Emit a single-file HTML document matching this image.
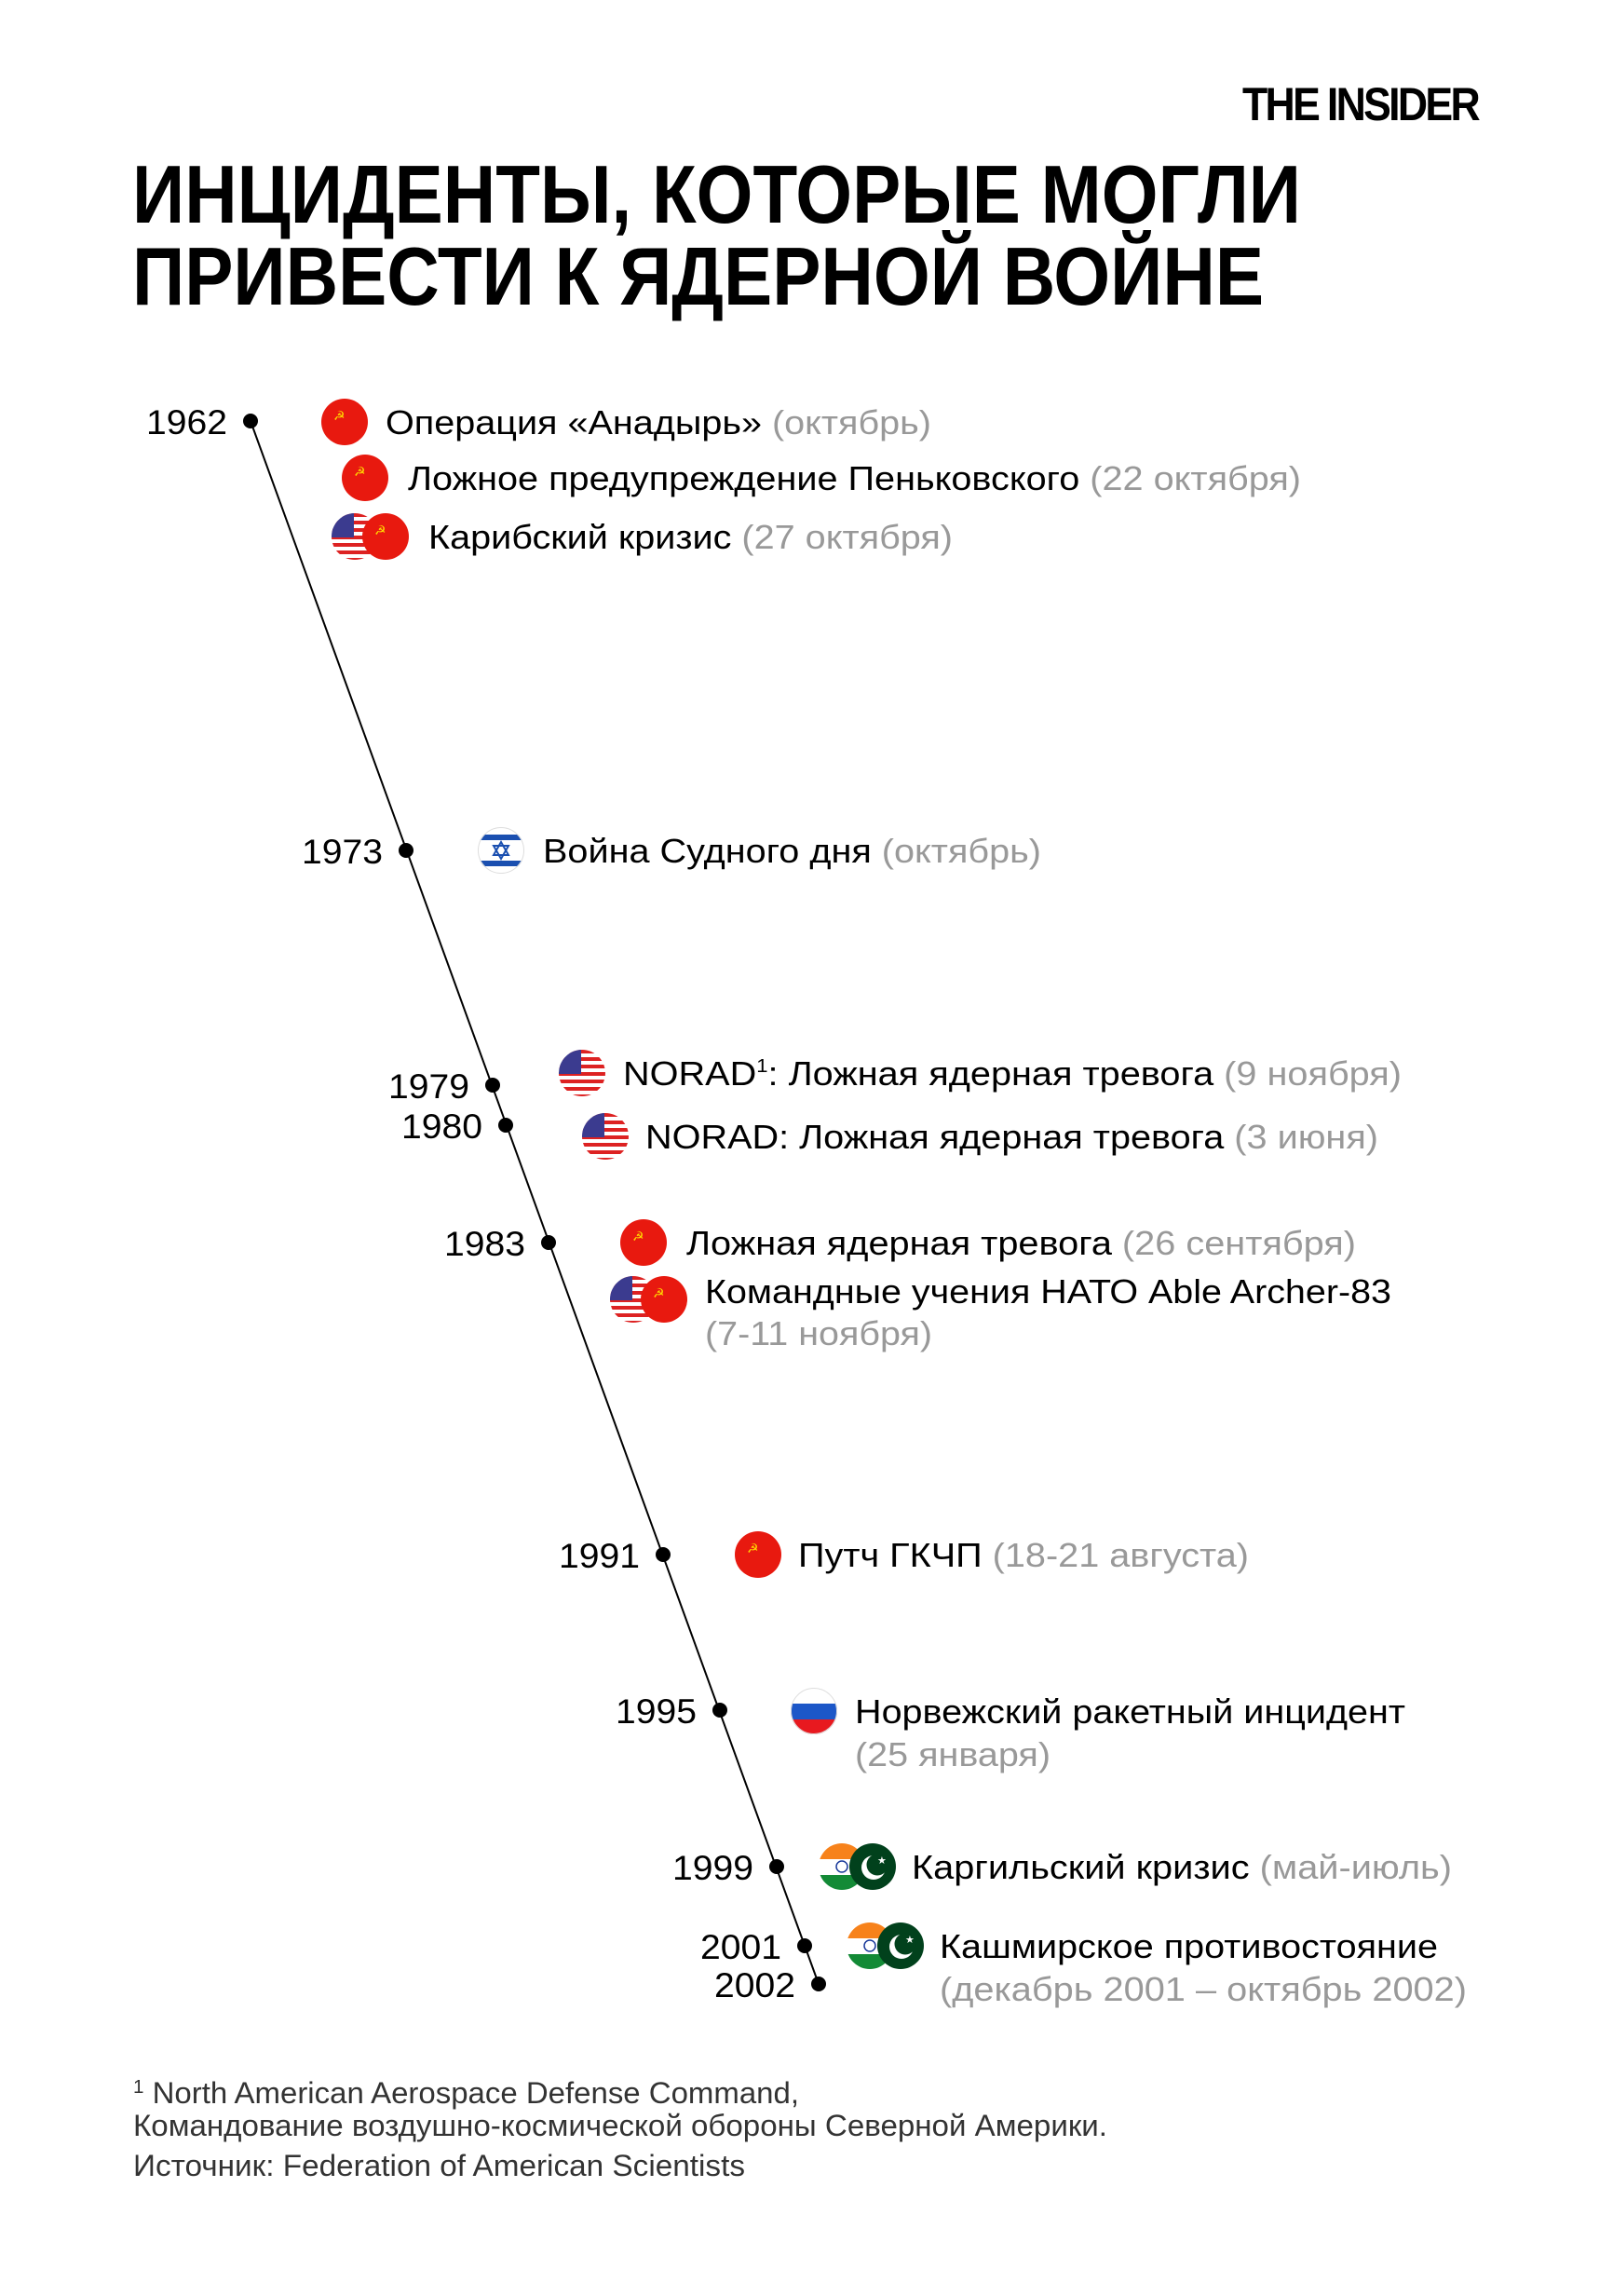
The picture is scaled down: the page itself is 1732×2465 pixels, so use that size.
<!DOCTYPE html>
<html><head><meta charset="utf-8"><style>
html,body{margin:0;padding:0;background:#fff}
svg{display:block}
text{font-family:"Liberation Sans",sans-serif}
.t{font-size:36px;fill:#000}
.g{fill:#999}
.y{font-size:37px;fill:#000;text-anchor:end}
.f{font-size:32px;fill:#333}
</style></head><body>
<svg width="1732" height="2465" viewBox="0 0 1732 2465" xmlns="http://www.w3.org/2000/svg">
<defs>
<clipPath id="c"><circle cx="0" cy="0" r="25"/></clipPath>
<symbol id="su" viewBox="-25 -25 50 50"><circle r="25" fill="#e8190f"/><text x="-12" y="-2" font-size="14" fill="#ffd700" style="font-family:'DejaVu Sans',sans-serif">☭</text></symbol>
<symbol id="us" viewBox="-25 -25 50 50"><g clip-path="url(#c)"><rect x="-25" y="-25" width="50" height="50" fill="#fff"/>
<rect x="-25" y="-25" width="50" height="4" fill="#d22"/><rect x="-25" y="-17" width="50" height="4" fill="#d22"/><rect x="-25" y="-9" width="50" height="4" fill="#d22"/><rect x="-25" y="-1" width="50" height="4" fill="#d22"/><rect x="-25" y="7" width="50" height="4" fill="#d22"/><rect x="-25" y="15" width="50" height="4" fill="#d22"/><rect x="-25" y="23" width="50" height="4" fill="#d22"/>
<rect x="-25" y="-25" width="24" height="26" fill="#3b3b8f"/></g></symbol>
<symbol id="il" viewBox="-25 -25 50 50"><g clip-path="url(#c)"><rect x="-25" y="-25" width="50" height="50" fill="#fff"/><rect x="-25" y="-17" width="50" height="6" fill="#1a4fb0"/><rect x="-25" y="11" width="50" height="6" fill="#1a4fb0"/><polygon points="0,-9 8,5 -8,5" fill="none" stroke="#1a4fb0" stroke-width="2"/><polygon points="0,9 8,-5 -8,-5" fill="none" stroke="#1a4fb0" stroke-width="2"/></g><circle r="24.5" fill="none" stroke="#ddd" stroke-width="1"/></symbol>
<symbol id="ru" viewBox="-25 -25 50 50"><g clip-path="url(#c)"><rect x="-25" y="-25" width="50" height="17" fill="#fff"/><rect x="-25" y="-8" width="50" height="17" fill="#1c57c8"/><rect x="-25" y="9" width="50" height="16" fill="#e8191f"/></g><circle r="24.5" fill="none" stroke="#ddd" stroke-width="1"/></symbol>
<symbol id="in" viewBox="-25 -25 50 50"><g clip-path="url(#c)"><rect x="-25" y="-25" width="50" height="17" fill="#f7821b"/><rect x="-25" y="-8" width="50" height="17" fill="#fff"/><rect x="-25" y="9" width="50" height="16" fill="#138a36"/><circle r="6" fill="none" stroke="#1a3a9a" stroke-width="1.5"/></g></symbol>
<symbol id="pk" viewBox="-25 -25 50 50"><circle r="25" fill="#01411c"/><circle cx="1" cy="1" r="13" fill="#fff"/><circle cx="5" cy="-2" r="11.5" fill="#01411c"/><text x="5" y="-3" font-size="11" fill="#fff">★</text></symbol>
</defs>

<text x="1334" y="129" font-size="50" font-weight="bold" textLength="253" lengthAdjust="spacingAndGlyphs" letter-spacing="-3">THE INSIDER</text>
<text x="142" y="239" font-size="88" font-weight="bold" textLength="1255" lengthAdjust="spacingAndGlyphs">ИНЦИДЕНТЫ, КОТОРЫЕ МОГЛИ</text>
<text x="142" y="327" font-size="88" font-weight="bold" textLength="1215" lengthAdjust="spacingAndGlyphs">ПРИВЕСТИ К ЯДЕРНОЙ ВОЙНЕ</text>

<line x1="269" y1="452" x2="879" y2="2130" stroke="#000" stroke-width="2"/>
<g fill="#000">
<circle cx="269" cy="452" r="8"/><circle cx="436" cy="913" r="8"/><circle cx="529" cy="1165" r="8"/><circle cx="543" cy="1208" r="8"/><circle cx="589" cy="1334" r="8"/><circle cx="712" cy="1669" r="8"/><circle cx="773" cy="1836" r="8"/><circle cx="834" cy="2004" r="8"/><circle cx="864" cy="2089" r="8"/><circle cx="879" cy="2130" r="8"/>
</g>
<text class="y" x="244" y="466" textLength="87" lengthAdjust="spacingAndGlyphs">1962</text>
<text class="y" x="411" y="927" textLength="87" lengthAdjust="spacingAndGlyphs">1973</text>
<text class="y" x="504" y="1179" textLength="87" lengthAdjust="spacingAndGlyphs">1979</text>
<text class="y" x="518" y="1222" textLength="87" lengthAdjust="spacingAndGlyphs">1980</text>
<text class="y" x="564" y="1348" textLength="87" lengthAdjust="spacingAndGlyphs">1983</text>
<text class="y" x="687" y="1683" textLength="87" lengthAdjust="spacingAndGlyphs">1991</text>
<text class="y" x="748" y="1850" textLength="87" lengthAdjust="spacingAndGlyphs">1995</text>
<text class="y" x="809" y="2018" textLength="87" lengthAdjust="spacingAndGlyphs">1999</text>
<text class="y" x="839" y="2103" textLength="87" lengthAdjust="spacingAndGlyphs">2001</text>
<text class="y" x="854" y="2144" textLength="87" lengthAdjust="spacingAndGlyphs">2002</text>

<use href="#su" x="345" y="428" width="50" height="50"/>
<text class="t" x="414" y="466" textLength="586" lengthAdjust="spacingAndGlyphs">Операция «Анадырь» <tspan class="g">(октябрь)</tspan></text>

<use href="#su" x="367" y="488" width="50" height="50"/>
<text class="t" x="438" y="526" textLength="959" lengthAdjust="spacingAndGlyphs">Ложное предупреждение Пеньковского <tspan class="g">(22 октября)</tspan></text>

<use href="#us" x="356" y="551" width="50" height="50"/>
<use href="#su" x="389" y="551" width="50" height="50"/>
<text class="t" x="460" y="589" textLength="563" lengthAdjust="spacingAndGlyphs">Карибский кризис <tspan class="g">(27 октября)</tspan></text>

<use href="#il" x="513" y="888" width="50" height="50"/>
<text class="t" x="583" y="926" textLength="535" lengthAdjust="spacingAndGlyphs">Война Судного дня <tspan class="g">(октябрь)</tspan></text>

<use href="#us" x="600" y="1127" width="50" height="50"/>
<text class="t" x="669" y="1165" textLength="836" lengthAdjust="spacingAndGlyphs">NORAD<tspan font-size="20" dy="-14">1</tspan><tspan dy="14">: Ложная ядерная тревога </tspan><tspan class="g">(9 ноября)</tspan></text>

<use href="#us" x="625" y="1195" width="50" height="50"/>
<text class="t" x="693" y="1233" textLength="787" lengthAdjust="spacingAndGlyphs">NORAD: Ложная ядерная тревога <tspan class="g">(3 июня)</tspan></text>

<use href="#su" x="666" y="1309" width="50" height="50"/>
<text class="t" x="737" y="1347" textLength="719" lengthAdjust="spacingAndGlyphs">Ложная ядерная тревога <tspan class="g">(26 сентября)</tspan></text>

<use href="#us" x="655" y="1370" width="50" height="50"/>
<use href="#su" x="688" y="1370" width="50" height="50"/>
<text class="t" x="757" y="1399" textLength="737" lengthAdjust="spacingAndGlyphs">Командные учения НАТО Able Archer-83</text>
<text class="t g" x="757" y="1444" textLength="244" lengthAdjust="spacingAndGlyphs">(7-11 ноября)</text>

<use href="#su" x="789" y="1644" width="50" height="50"/>
<text class="t" x="857" y="1682" textLength="484" lengthAdjust="spacingAndGlyphs">Путч ГКЧП <tspan class="g">(18-21 августа)</tspan></text>

<use href="#ru" x="849" y="1812" width="50" height="50"/>
<text class="t" x="918" y="1850" textLength="591" lengthAdjust="spacingAndGlyphs">Норвежский ракетный инцидент</text>
<text class="t g" x="918" y="1896" textLength="210" lengthAdjust="spacingAndGlyphs">(25 января)</text>

<use href="#in" x="879" y="1979" width="50" height="50"/>
<use href="#pk" x="912" y="1979" width="50" height="50"/>
<text class="t" x="979" y="2017" textLength="580" lengthAdjust="spacingAndGlyphs">Каргильский кризис <tspan class="g">(май-июль)</tspan></text>

<use href="#in" x="909" y="2064" width="50" height="50"/>
<use href="#pk" x="942" y="2064" width="50" height="50"/>
<text class="t" x="1009" y="2102" textLength="535" lengthAdjust="spacingAndGlyphs">Кашмирское противостояние</text>
<text class="t g" x="1009" y="2148" textLength="566" lengthAdjust="spacingAndGlyphs">(декабрь 2001 – октябрь 2002)</text>

<text class="f" x="143" y="2258" textLength="715" lengthAdjust="spacingAndGlyphs"><tspan font-size="20" dy="-11">1</tspan><tspan dy="11"> North American Aerospace Defense Command,</tspan></text>
<text class="f" x="143" y="2293" textLength="1046" lengthAdjust="spacingAndGlyphs">Командование воздушно-космической обороны Северной Америки.</text>
<text class="f" x="143" y="2336" textLength="657" lengthAdjust="spacingAndGlyphs">Источник: Federation of American Scientists</text>
</svg>
</body></html>
